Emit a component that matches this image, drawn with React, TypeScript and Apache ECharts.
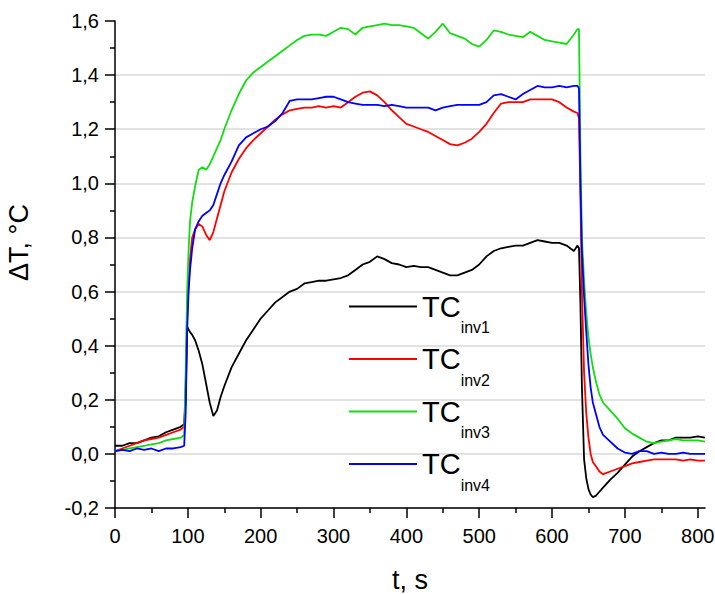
import React, { useEffect, useRef } from 'react';
import * as echarts from 'echarts';

// time axis (s)
const time = [
  0, 10, 20, 30, 40, 50, 60, 70, 80, 90,
  95, 97, 99, 101, 103, 106, 110, 115, 120, 125, 130, 135, 140, 145, 150,
  160, 170, 180, 190, 200, 210, 220, 230, 240, 250,
  260, 270, 280, 290, 300, 310, 320, 330, 340, 350,
  360, 370, 380, 390, 400, 410, 420, 430, 440, 450,
  460, 470, 480, 490, 500, 510, 520, 530, 540, 550,
  560, 570, 580, 590, 600, 610, 620, 630,
  635, 637, 639, 641, 644, 647, 650, 653, 656, 660, 665, 670,
  680, 690, 700, 710, 720, 730, 740, 750, 760, 770, 780, 790, 800, 810,
];

const tcInv1 = [
  0.03, 0.03, 0.04, 0.04, 0.05, 0.06, 0.065, 0.08, 0.09, 0.10,
  0.11, 0.20, 0.47, 0.46, 0.45, 0.44, 0.42, 0.38, 0.33, 0.26, 0.19, 0.14, 0.16, 0.21, 0.25,
  0.32, 0.37, 0.42, 0.46, 0.50, 0.53, 0.56, 0.58, 0.60, 0.61,
  0.63, 0.635, 0.64, 0.64, 0.645, 0.65, 0.66, 0.68, 0.70, 0.71,
  0.73, 0.72, 0.705, 0.70, 0.69, 0.695, 0.69, 0.69, 0.68, 0.67,
  0.66, 0.66, 0.67, 0.68, 0.70, 0.73, 0.75, 0.76, 0.765, 0.77,
  0.77, 0.78, 0.79, 0.785, 0.78, 0.78, 0.77, 0.75,
  0.77, 0.76, 0.55, 0.25, -0.02, -0.09, -0.13, -0.15, -0.16, -0.155, -0.14, -0.125,
  -0.095, -0.07, -0.04, -0.01, 0.01, 0.025, 0.04, 0.05, 0.05, 0.06, 0.06, 0.06, 0.065, 0.06,
];

const tcInv2 = [
  0.01, 0.02, 0.03, 0.04, 0.05, 0.055, 0.06, 0.07, 0.08, 0.09,
  0.10, 0.25, 0.50, 0.62, 0.72, 0.80, 0.83, 0.85, 0.84, 0.81, 0.79, 0.82, 0.87, 0.92, 0.97,
  1.04, 1.09, 1.13, 1.16, 1.185, 1.21, 1.235, 1.255, 1.27, 1.275,
  1.28, 1.28, 1.285, 1.28, 1.285, 1.28, 1.30, 1.32, 1.335, 1.34,
  1.325, 1.30, 1.27, 1.245, 1.22, 1.21, 1.20, 1.19, 1.175, 1.16,
  1.145, 1.14, 1.15, 1.165, 1.19, 1.22, 1.26, 1.295, 1.30, 1.30,
  1.30, 1.31, 1.31, 1.31, 1.31, 1.30, 1.28, 1.265,
  1.26, 1.24, 0.95, 0.60, 0.30, 0.15, 0.06, 0.0, -0.03, -0.045, -0.065, -0.075,
  -0.065, -0.055, -0.045, -0.035, -0.03, -0.025, -0.02, -0.02, -0.02, -0.02, -0.025, -0.02, -0.025, -0.025,
];

const tcInv3 = [
  0.01, 0.015, 0.02, 0.025, 0.03, 0.035, 0.04, 0.05, 0.055, 0.06,
  0.07, 0.30, 0.60, 0.75, 0.86, 0.93, 0.99, 1.05, 1.06, 1.05, 1.07, 1.10, 1.13, 1.16, 1.20,
  1.27, 1.33, 1.38, 1.41, 1.43, 1.45, 1.47, 1.49, 1.51, 1.53,
  1.545, 1.55, 1.55, 1.545, 1.56, 1.575, 1.57, 1.55, 1.575, 1.58,
  1.585, 1.59, 1.585, 1.585, 1.58, 1.575, 1.555, 1.535, 1.56, 1.59,
  1.555, 1.545, 1.535, 1.515, 1.505, 1.53, 1.565, 1.56, 1.55, 1.545,
  1.54, 1.56, 1.545, 1.53, 1.525, 1.52, 1.515, 1.55,
  1.57, 1.57, 1.10, 0.80, 0.64, 0.52, 0.43, 0.37, 0.32, 0.27, 0.22, 0.19,
  0.16, 0.13, 0.095, 0.075, 0.06, 0.045, 0.04, 0.045, 0.05, 0.055, 0.05, 0.05, 0.05, 0.045,
];

const tcInv4 = [
  0.01, 0.015, 0.01, 0.02, 0.015, 0.02, 0.01, 0.02, 0.02, 0.025,
  0.03, 0.15, 0.45, 0.60, 0.68, 0.76, 0.83, 0.86, 0.88, 0.89, 0.90, 0.92, 0.96, 1.00, 1.03,
  1.08, 1.14, 1.17, 1.185, 1.20, 1.21, 1.23, 1.26, 1.305, 1.31,
  1.31, 1.31, 1.315, 1.32, 1.32, 1.31, 1.30, 1.295, 1.29, 1.29,
  1.29, 1.285, 1.29, 1.285, 1.28, 1.28, 1.28, 1.28, 1.27, 1.28,
  1.285, 1.29, 1.29, 1.29, 1.29, 1.30, 1.325, 1.33, 1.32, 1.31,
  1.33, 1.345, 1.36, 1.355, 1.355, 1.36, 1.355, 1.36,
  1.36, 1.35, 1.00, 0.75, 0.58, 0.45, 0.33, 0.245, 0.19, 0.15, 0.10, 0.07,
  0.045, 0.02, 0.005, 0.0, 0.01, 0.01, 0.0, 0.005, 0.0, 0.0, 0.005, 0.0, 0.0, 0.0,
];

const seriesNames = ['TCinv1', 'TCinv2', 'TCinv3', 'TCinv4'];
const seriesValues = [tcInv1, tcInv2, tcInv3, tcInv4];
const xTickValues = [0, 100, 200, 300, 400, 500, 600, 700, 800];
const xMinorTickValues = [50, 150, 250, 350, 450, 550, 650, 750];

export default function App() {
  const ref = useRef<HTMLDivElement>(null);

  useEffect(() => {
    if (!ref.current) return;
    const chart = echarts.init(ref.current, undefined, { renderer: 'svg' });
    const colors = ['#000000', '#ff0000', '#11dd11', '#0000ff'];
    const axisColor = '#000000';
    const font = 'Arial, "Liberation Sans", sans-serif';

    chart.setOption({
      animation: false,
      backgroundColor: '#ffffff',
      textStyle: { fontFamily: font },
      grid: { left: 115, right: 10, top: 21, bottom: 86, containLabel: false, outerBoundsMode: 'none' },
      legend: {
        orient: 'vertical',
        left: 344,
        top: 287,
        itemWidth: 68,
        itemHeight: 2,
        itemGap: 9,
        icon: 'rect',
        selectedMode: false,
        data: seriesNames,
        formatter: (name: string) => `{a|TC}{b|${name.slice(2)}}`,
        textStyle: {
          fontFamily: font,
          rich: {
            a: { fontSize: 29, lineHeight: 58, color: '#000', fontFamily: font },
            b: { fontSize: 16, lineHeight: 16, verticalAlign: 'bottom', color: '#000', fontFamily: font },
          },
        },
      },
      xAxis: [
        {
          type: 'value',
          position: 'bottom',
          min: 0,
          max: 810,
          name: 't, s',
          nameLocation: 'middle',
          nameGap: 58,
          nameTextStyle: { fontSize: 27, color: '#000', fontFamily: font },
          axisLine: { show: true, onZero: false, lineStyle: { color: axisColor, width: 1.5 } },
          axisTick: { show: true, customValues: xTickValues, length: 10, lineStyle: { color: axisColor, width: 1.5 } },
          axisLabel: { customValues: xTickValues, fontSize: 20, color: '#000', margin: 18, fontFamily: font },
          splitLine: { show: false },
        },
        {
          type: 'value',
          position: 'bottom',
          min: 0,
          max: 810,
          axisLine: { show: false, onZero: false },
          axisTick: { show: true, customValues: xMinorTickValues, length: 5, lineStyle: { color: axisColor, width: 1.5 } },
          axisLabel: { show: false },
          splitLine: { show: false },
        },
      ],
      yAxis: {
        type: 'value',
        min: -0.2,
        max: 1.6,
        interval: 0.2,
        name: 'ΔT, °C',
        nameLocation: 'middle',
        nameGap: 83,
        nameTextStyle: { fontSize: 27, color: '#000', fontFamily: font, padding: [0, 0, 0, 44] },
        axisLine: { show: true, onZero: false, lineStyle: { color: axisColor, width: 1.5 } },
        axisTick: { show: true, length: 10, lineStyle: { color: axisColor, width: 1.5 } },
        minorTick: { show: true, splitNumber: 2, length: 5, lineStyle: { color: axisColor, width: 1.5 } },
        axisLabel: {
          fontSize: 20,
          color: '#000',
          margin: 16,
          fontFamily: font,
          formatter: (v: number) => v.toFixed(1).replace('.', ','),
        },
        splitLine: { show: true, showMaxLine: false, lineStyle: { color: '#d9d9d9', width: 1.5 } },
      },
      series: seriesNames.map((name, i) => ({
        name,
        type: 'line',
        xAxisIndex: 0,
        symbol: 'none',
        showSymbol: false,
        color: colors[i],
        itemStyle: { color: colors[i] },
        lineStyle: { color: colors[i], width: 1.8 },
        data: time.map((t, j) => [t, seriesValues[i][j]]),
        z: 2 + i,
      })),
    });

    return () => chart.dispose();
  }, []);

  return (
    <div
      ref={ref}
      style={{ position: 'fixed', left: 0, top: 0, width: 715, height: 594 }}
    />
  );
}
